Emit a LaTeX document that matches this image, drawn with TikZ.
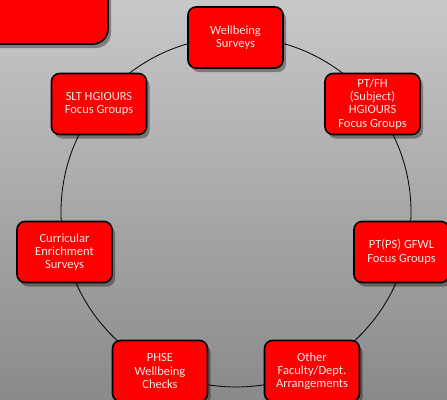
\documentclass[tikz,border=0pt]{standalone}
\usepackage{fontspec}
\setmainfont{Carlito}
\usetikzlibrary{shadows}
\definecolor{boxred}{RGB}{255,0,0}
\definecolor{boxtext}{RGB}{255,232,232}
\definecolor{bgtop}{RGB}{200,200,200}
\definecolor{bgbot}{RGB}{138,138,138}
\tikzset{
  item/.style={draw=black, line width=1.6pt, fill=boxred, rounded corners=8pt,
    minimum width=95pt, minimum height=61pt, inner sep=1pt, align=center,
    text=boxtext, font=\fontsize{12.5}{13.2}\selectfont,
    drop shadow={shadow xshift=3pt, shadow yshift=-4pt, opacity=0.35, fill=black}},
  ring/.style={draw=black, line width=0.8pt}
}
\begin{document}
\begin{tikzpicture}[x=1pt,y=-1pt]
\shade[top color=bgtop, bottom color=bgbot] (0,0) rectangle (447,399);
\useasboundingbox (0,0) rectangle (447,399);
% title box at top-left
\fill[black, opacity=0.35, rounded corners=15pt] (-30,-30) rectangle (111,48);
\draw[line width=1.6pt, fill=boxred, rounded corners=15pt] (-30,-30) rectangle (108,44);
% ring
\coordinate (c) at (236,212);
\draw[ring] (c) circle[radius=175];
% items
\node[item] (ws)  at (235.5,37.5) {Wellbeing\\Surveys};
\node[item] (slt) at (99,104) {SLT HGIOURS\\Focus Groups};
\node[item] (ptfh) at (372.5,104) {PT/FH\\(Subject)\\HGIOURS\\Focus Groups};
\node[item] (cur) at (64.5,252) {Curricular\\Enrichment\\Surveys};
\node[item] (ptps) at (401.5,252) {PT(PS) GFWL\\Focus Groups};
\node[item] (phse) at (160,371) {PHSE\\Wellbeing\\Checks};
\node[item] (oth) at (312,371) {Other\\Faculty/Dept.\\Arrangements};
\end{tikzpicture}
\end{document}
